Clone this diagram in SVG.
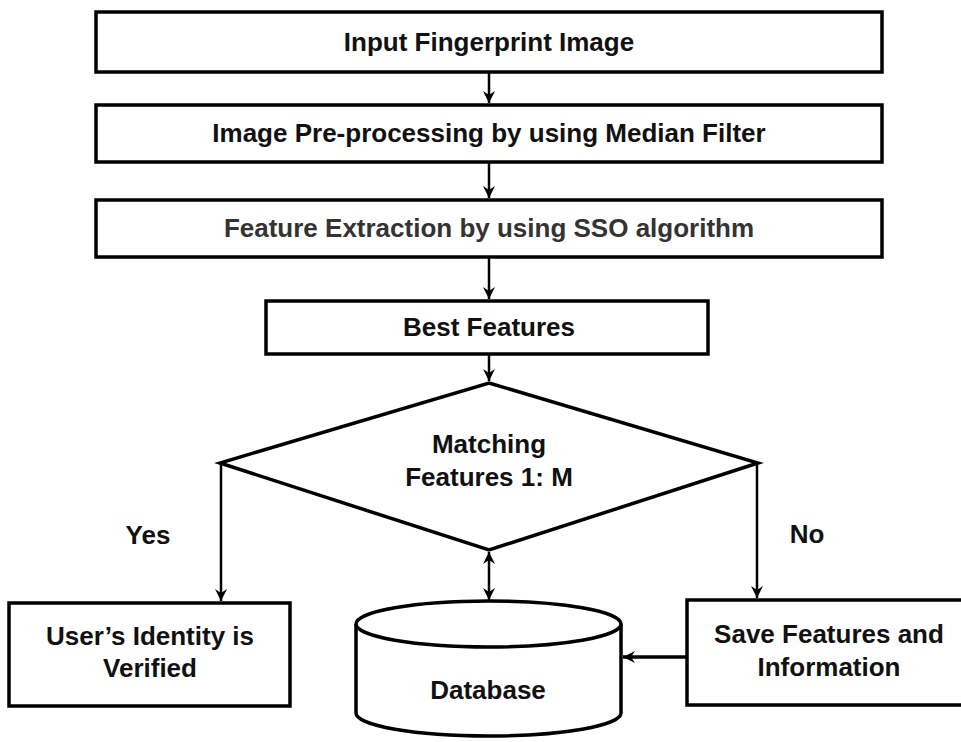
<svg xmlns="http://www.w3.org/2000/svg" width="961" height="742" viewBox="0 0 961 742">
<defs>
<style>
.box{fill:#fff;stroke:#000;stroke-width:3.5}
.ln{fill:none;stroke:#000;stroke-width:2.5}
.t{font-family:"Liberation Sans",Arial,sans-serif;font-weight:bold;font-size:26px;fill:#111;text-anchor:middle}
</style>
<marker id="ah" markerWidth="14" markerHeight="14" refX="12" refY="7" orient="auto" markerUnits="userSpaceOnUse">
<path d="M0,1 L12,7 L0,13 L4,7 Z" fill="#000"/>
</marker>
<marker id="ahs" markerWidth="14" markerHeight="14" refX="0" refY="7" orient="auto" markerUnits="userSpaceOnUse">
<path d="M12,1 L0,7 L12,13 L8,7 Z" fill="#000"/>
</marker>
</defs>
<g id="n1"><rect class="box" x="96" y="12" width="786" height="60"/><text class="t" x="489" y="51">Input Fingerprint Image</text></g>
<g id="n2"><rect class="box" x="96" y="105" width="786" height="57"/><text class="t" x="489" y="142">Image Pre-processing by using Median Filter</text></g>
<g id="n3"><rect class="box" x="96" y="200" width="786" height="57"/><text class="t" x="489" y="237" style="fill:#333">Feature Extraction by using SSO algorithm</text></g>
<g id="n4"><rect class="box" x="266" y="301" width="442" height="53"/><text class="t" x="489" y="336">Best Features</text></g>
<g id="n5"><polygon class="box" points="489,383 758,463 489,550 220,463"/><text class="t" x="489" y="453">Matching</text><text class="t" x="489" y="486">Features 1: M</text></g>
<g id="n6"><rect class="box" x="9" y="603" width="281" height="103"/><text class="t" x="150" y="645">User’s Identity is</text><text class="t" x="150" y="677">Verified</text></g>
<g id="n7"><rect class="box" x="687" y="600" width="285" height="105"/><text class="t" x="829" y="643">Save Features and</text><text class="t" x="829" y="676">Information</text></g>
<g id="n8"><path class="box" d="M356,624 L356,713 A132.5,23 0 0 0 621,713 L621,624 A132.5,23 0 0 0 356,624 Z"/><path class="ln" style="stroke-width:3.5" d="M356,624 A132.5,23 0 0 0 621,624"/><text class="t" x="488" y="699">Database</text></g>
<g id="labels"><text class="t" x="148" y="544">Yes</text><text class="t" x="807" y="543">No</text></g>
<g id="connectors">
<line class="ln" x1="489" y1="72" x2="489" y2="103" marker-end="url(#ah)"/>
<line class="ln" x1="489" y1="162" x2="489" y2="198" marker-end="url(#ah)"/>
<line class="ln" x1="489" y1="257" x2="489" y2="299" marker-end="url(#ah)"/>
<line class="ln" x1="489" y1="354" x2="489" y2="381" marker-end="url(#ah)"/>
<line class="ln" x1="221" y1="463" x2="221" y2="601" marker-end="url(#ah)"/>
<line class="ln" x1="757" y1="463" x2="757" y2="598" marker-end="url(#ah)"/>
<line class="ln" x1="489" y1="552" x2="489" y2="600" marker-start="url(#ahs)" marker-end="url(#ah)"/>
<line class="ln" style="stroke-width:3.5" x1="687" y1="657" x2="623" y2="657" marker-end="url(#ah)"/>
</g>
</svg>
